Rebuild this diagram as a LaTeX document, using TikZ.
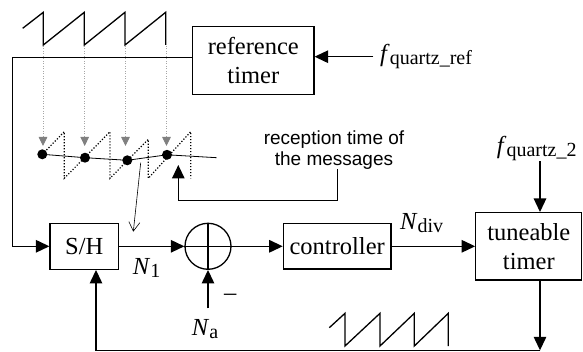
\documentclass[tikz,border=0pt]{standalone}
\usepackage{fontspec}
\setmainfont{Liberation Serif}
\newfontfamily\arialfont{Liberation Sans}
\usetikzlibrary{arrows.meta}
\newcommand\sublbl[2]{\textit{#1}\raisebox{-3pt}{\fontsize{20}{20}\selectfont #2}}
\begin{document}
\begin{tikzpicture}[x=1pt,y=-1pt,
  every node/.style={font=\fontsize{24.5}{29}\selectfont},
  box/.style={draw,line width=1.3pt,inner sep=0pt,align=center},
  conn/.style={line width=1.3pt},
  arr/.style={conn,-{Triangle[length=13.5pt,width=12.5pt]}},
  saw/.style={line width=1.3pt},
  dotsaw/.style={line width=1.2pt,dash pattern=on 1.2pt off 1.8pt},
  grayarr/.style={draw=gray!70,line width=0.9pt,dash pattern=on 1pt off 1.5pt,
    -{Triangle[length=9pt,width=8.5pt,color=gray]}},
  thinarr/.style={line width=0.6pt,-{Straight Barb[length=9pt,width=11pt]}},
  lbl/.style={anchor=base west,inner sep=0pt}
]
\useasboundingbox (0,0) rectangle (583,352);

% boxes
\node[box,minimum width=121.3pt,minimum height=67.6pt,font=\fontsize{24.5}{28.4}\selectfont] (ref) at (253.3,60.5) {reference\\timer};
\node[box,minimum width=106pt,minimum height=67.3pt,font=\fontsize{24.5}{29}\selectfont] (tune) at (528.8,246.3) {tuneable\\timer};
\node[box,minimum width=68.3pt,minimum height=46pt] (sh) at (84.2,246.3) {S/H};
\node[draw,circle,line width=1.3pt,minimum size=46pt,inner sep=0pt] (sum) at (208,246.3) {};
\draw[line width=1.3pt] (sum.north) -- (sum.south) (sum.west) -- (sum.east);
\node[box,minimum width=107.7pt,minimum height=45.4pt] (ctrl) at (337.2,246.3) {controller};

% labels
\node[lbl] (fref) at (380,62) {\sublbl{f}{quartz\_ref}};
\node[lbl] (f2) at (496.7,154) {\sublbl{f}{quartz\_2}};
\node[lbl] (N1) at (132.7,275) {\sublbl{N}{1}};
\node[lbl] (Ndiv) at (400,230) {\sublbl{N}{div}};
\node[lbl] (Na) at (191.7,335) {\sublbl{N}{a}};
\node[anchor=base,inner sep=0pt] (minus) at (230.2,301) {–};
\node[font=\arialfont\fontsize{19}{21}\selectfont,align=center,anchor=north,inner sep=0pt] (recep) at (334,130.3) {reception time of\\the messages};

% coordinates
\coordinate (tl) at (12.3,57.3);
\coordinate (tx) at (540,0);
\coordinate (bl) at (540,350.3);
\coordinate (bc) at (96,350.3);
\coordinate (rx) at (337.3,200.7);
\coordinate (rl) at (178.3,200.7);
\coordinate (rt) at (178.3,165);
\coordinate (ta) at (140.7,162.7);
\coordinate (tb) at (133.3,231.7);

% connectors
\draw[arr] (ref.west |- tl) -- (tl) -- (tl |- sh.west) -- (sh.west);
\draw[arr] ([xshift=-6.7pt]fref.west |- 0,56.7) -- (ref.east |- 0,56.7);
\draw[arr] (f2.south -| tx) -- (tune.north -| tx);
\draw[arr] (tune.south -| bl) -- (bl);
\draw[arr] (bl) -- (bc) -- (sh.south -| bc);
\draw[arr] (sh) -- (sum);
\draw[arr] (sum) -- (ctrl);
\draw[arr] (ctrl) -- (tune);
\draw[arr] ([yshift=10.5pt]Na.north -| sum.south) -- (sum.south);
\draw[arr] (recep.south -| rx) -- (rx) -- (rl) -- (rt);
\draw[thinarr] (ta) -- (tb);

% top sawtooth
\draw[saw] (22.7,28.3) -- (43.3,12.3) -- (43.3,45) -- (84.3,12.3) -- (84.3,45) -- (125,12.3) -- (125,45) -- (165.7,12.3) -- (165.7,45);
% bottom sawtooth
\draw[saw] (329.3,327.7) -- (345,313.3) -- (345,346) -- (380,313.3) -- (380,346) -- (414.3,313.3) -- (414.3,346) -- (448.3,313.3) -- (448.3,346);

% gray dotted arrows
\foreach \x in {43,84.7,125.5,166.5} \draw[grayarr] (\x,46) -- (\x,146);

% reception points
\coordinate (d1) at (42.3,154.3);
\coordinate (d2) at (85,157.7);
\coordinate (d3) at (127.3,160.3);
\coordinate (d4) at (167,154.8);
\coordinate (d5) at (216.7,157.7);
\draw[dotsaw] (d1) -- (64.3,131.7) -- (64.3,178.3) -- (110,131.7) -- (110,178.3) -- (148.3,139.3) -- (148.3,178.3) -- (190.7,131.7) -- (190.7,178.3);
\draw[line width=0.8pt] (d1) -- (d2) -- (d3) -- (d4) -- (d5);
\foreach \d in {d1,d2,d3,d4} \fill (\d) circle[radius=5pt];
\end{tikzpicture}
\end{document}
